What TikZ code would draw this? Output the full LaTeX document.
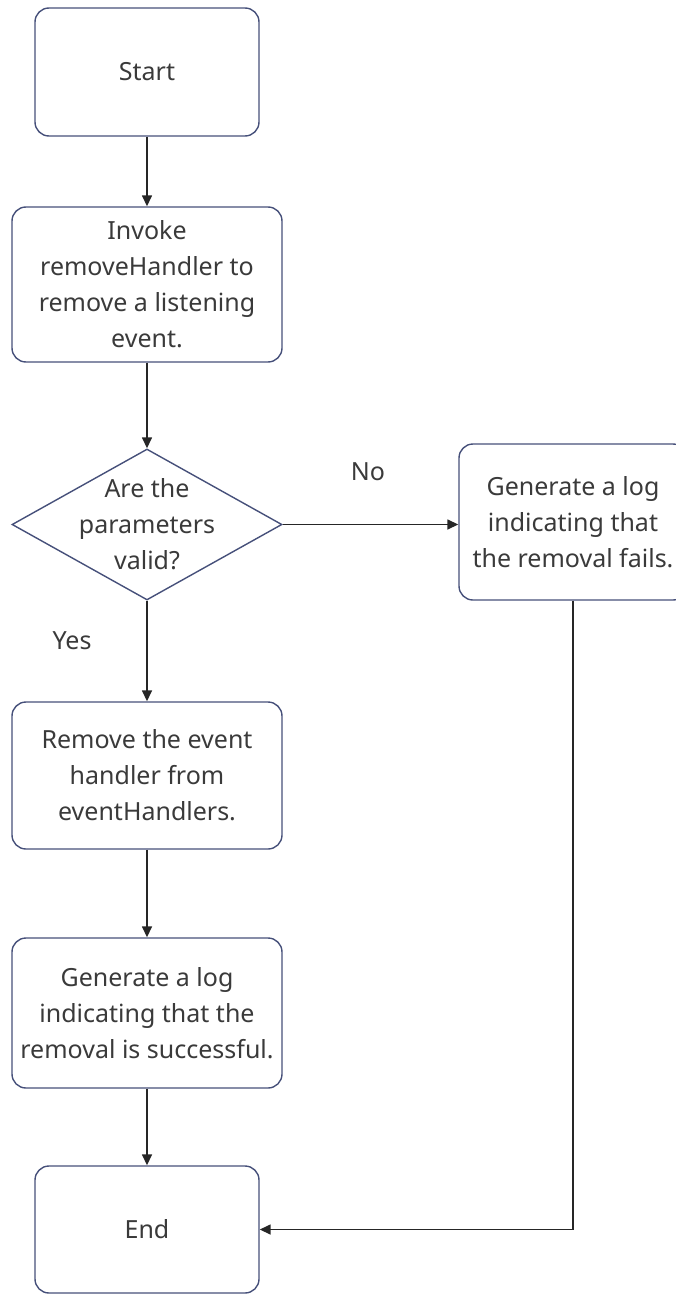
\documentclass[tikz,border=0pt]{standalone}
\usepackage{fontspec}
\setmainfont{Noto Sans}
\usetikzlibrary{arrows.meta,shapes.geometric}
\definecolor{edgeblue}{HTML}{46507A}
\definecolor{txtgray}{HTML}{3A3A3A}
\begin{document}
\begin{tikzpicture}[x=1pt,y=-1pt,
  font=\fontsize{25}{36}\selectfont,
  box/.style={draw=edgeblue, line width=1.4pt, rounded corners=14pt,
    text=txtgray, align=center, inner sep=0pt},
  lbl/.style={text=txtgray, align=center, inner sep=0pt},
  flow/.style={draw=black!85, line width=1.5pt,
    -{Triangle[length=11pt,width=10pt]}}]
\useasboundingbox (0,0) rectangle (676,1295);
\clip (0,0) rectangle (676,1295);

\node[box, minimum width=224pt, minimum height=128pt] (start) at (147,72) {Start};
\node[box, minimum width=270pt, minimum height=155pt] (invoke) at (147,284.5)
  {Invoke\\removeHandler to\\remove a listening\\event.};
\node[diamond, draw=edgeblue, line width=1.4pt, inner sep=0pt,
  minimum width=270pt, minimum height=151pt] (check) at (147,524.5) {};
\node[lbl] at (check.center) {Are the\\parameters\\valid?};
\node[box, minimum width=228pt, minimum height=156pt] (fail) at (573,522)
  {Generate a log\\indicating that\\the removal fails.};
\node[box, minimum width=270pt, minimum height=147pt] (remove) at (147,775.5)
  {Remove the event\\handler from\\eventHandlers.};
\node[box, minimum width=270pt, minimum height=150pt] (log) at (147,1013)
  {Generate a log\\indicating that the\\removal is successful.};
\node[box, minimum width=224pt, minimum height=127pt] (end) at (147,1229.5) {End};

\draw[flow] (start) -- (invoke);
\draw[flow] (invoke) -- (check);
\draw[flow] (check.east) -- (check.east -| fail.west);
\draw[flow] (check.south) -- (remove.north);
\draw[flow] (remove) -- (log);
\draw[flow] (log) -- (end);
\draw[flow] (fail.south) |- (end.east);

\node[lbl] (nolbl) at (368,472) {No};
\node[lbl] (yeslbl) at (72,641) {Yes};
\end{tikzpicture}
\end{document}
